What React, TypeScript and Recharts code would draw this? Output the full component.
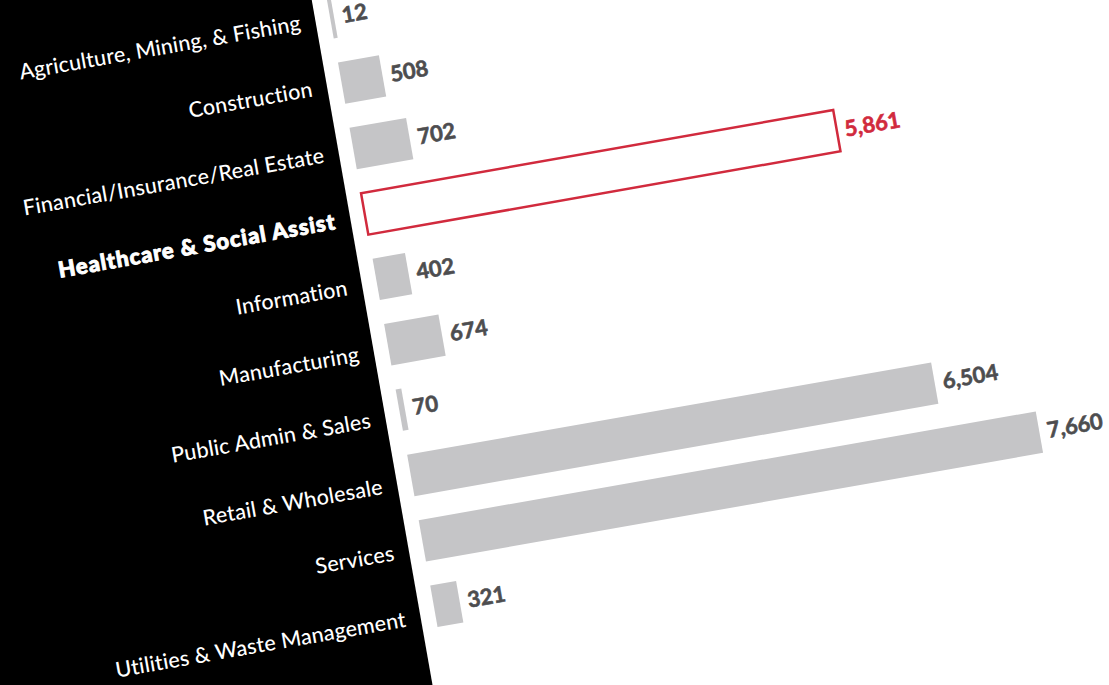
import { BarChart, Bar, XAxis, YAxis, Cell, LabelList } from 'recharts'

const categories = [
  'Agriculture, Mining, & Fishing',
  'Construction',
  'Financial/Insurance/Real Estate',
  'Healthcare & Social Assist',
  'Information',
  'Manufacturing',
  'Public Admin & Sales',
  'Retail & Wholesale',
  'Services',
  'Utilities & Waste Management',
]
const values = [12, 508, 702, 5861, 402, 674, 70, 6504, 7660, 321]
const highlight = 'Healthcare & Social Assist'
const xDomain = [0, 8000]

const RED = '#d12a3d'
const GRAY = '#c5c5c7'
const DARK = '#4d4d4f'
const FONT = 'Lato, "Open Sans", sans-serif'

const data = categories.map((name, i) => ({ name, value: values[i] }))

function CategoryTick(props: any) {
  const { x, y, payload, index } = props
  const bold = payload.value === highlight
  return (
    <text
      x={x}
      y={y}
      dy={7 + index * 0.9}
      textAnchor="end"
      fill="#fff"
      stroke={bold ? '#fff' : 'none'}
      strokeWidth={bold ? 0.9 : 0}
      letterSpacing={bold ? 1 : 0.2}
      fontFamily={FONT}
      fontSize={bold ? 22 : 21.5}
      fontWeight={bold ? 900 : 500}
    >
      {payload.value}
    </text>
  )
}

function ValueLabel(props: any) {
  const { x, y, width, height, value, index } = props
  const red = categories[index] === highlight
  const color = red ? RED : DARK
  return (
    <text
      x={x + width + 8}
      y={y + height / 2}
      dy={7.5}
      fill={color}
      stroke={color}
      strokeWidth={0.6}
      fontFamily={FONT}
      fontSize={22}
      fontWeight={700}
    >
      {Number(value).toLocaleString('en-US')}
    </text>
  )
}

export default function App() {
  return (
    <div
      style={{
        position: 'fixed',
        left: 0,
        top: 0,
        width: 1109,
        height: 685,
        overflow: 'hidden',
        background: '#fff',
      }}
    >
      <div
        style={{
          position: 'absolute',
          left: 0,
          top: 0,
          width: 1100,
          height: 760,
          transform: 'rotate(-10deg)',
          transformOrigin: '0 0',
        }}
      >
        {/* black label panel behind the y axis */}
        <div
          style={{
            position: 'absolute',
            left: -700,
            top: -400,
            width: 1007,
            height: 1600,
            background: '#000',
          }}
        />
        <div style={{ position: 'absolute', left: -120, top: 0 }}>
          <BarChart
            width={1220}
            height={760}
            data={data}
            layout="vertical"
            margin={{ top: 41.8, right: 123.6, left: 0, bottom: 54.2 }}
          >
            <XAxis type="number" domain={xDomain} hide />
            <YAxis
              type="category"
              dataKey="name"
              width={442}
              axisLine={false}
              tickLine={false}
              tickSize={0}
              tickMargin={30}
              interval={0}
              tick={<CategoryTick />}
            />
            <Bar dataKey="value" barSize={42} minPointSize={4} isAnimationActive={false}>
              {data.map((d) => (
                <Cell
                  key={d.name}
                  fill={d.name === highlight ? '#fff' : GRAY}
                  stroke={d.name === highlight ? RED : 'none'}
                  strokeWidth={d.name === highlight ? 2.5 : 0}
                />
              ))}
              <LabelList dataKey="value" content={<ValueLabel />} />
            </Bar>
          </BarChart>
        </div>
      </div>
    </div>
  )
}
